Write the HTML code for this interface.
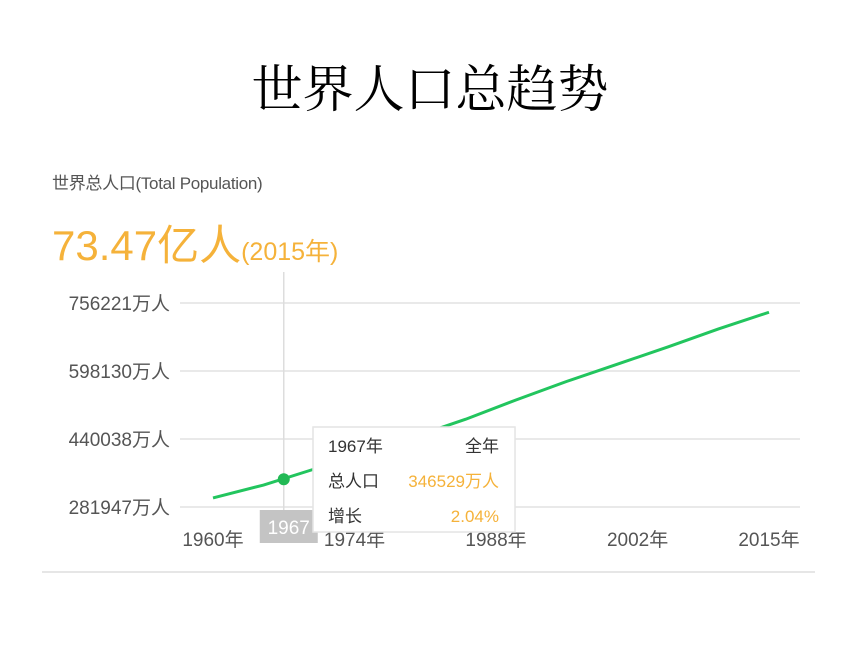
<!DOCTYPE html>
<html><head><meta charset="utf-8"><style>
body{margin:0;width:860px;height:645px;background:#fff;overflow:hidden;position:relative;font-family:"Liberation Sans","Noto Sans CJK SC",sans-serif}
.t{position:absolute;white-space:nowrap}
</style></head><body>
<div class="t" style="left:0;width:860px;text-align:center;top:48px;font-size:51px;font-family:'Liberation Serif','Noto Serif CJK SC',serif;color:#000">世界人口总趋势</div>
<div class="t" style="left:52px;top:169px;font-size:17px;color:#555;letter-spacing:-0.3px">世界总人口(Total Population)</div>
<div class="t" style="left:52px;top:212px;color:#f5b23a"><span style="font-size:42px">73.47亿人</span><span style="font-size:25px">(2015年)</span></div>
<svg id="chart" width="860" height="645" style="position:absolute;left:0;top:0"></svg>
<script>
const years=[1960,1965,1970,1975,1980,1985,1990,1995,2000,2005,2010,2015];
const pop=[303000,333000,370000,408000,446000,486000,531000,574000,614000,654000,696000,734700];
const yTicks=[281947,440038,598130,756221];
const xTicks=[1960,1974,1988,2002,2015];
const hoverYear=1967, hoverPop=346529, hoverGrowth="2.04%";
const NS="http://www.w3.org/2000/svg";
const svg=document.getElementById('chart');
const x=v=>213+(v-1960)*(769-213)/55;
const y=v=>507-(v-281947)*(507-303)/(756221-281947);
function mk(t,a,p){const e=document.createElementNS(NS,t);for(const k in a)e.setAttribute(k,a[k]);(p||svg).appendChild(e);return e;}
yTicks.forEach(v=>{
 const l=mk('line',{x1:180,x2:800,y1:y(v),y2:y(v),stroke:'#e2e2e2','stroke-width':1.5});
 
 
 const t=mk('text',{x:170,y:y(v)+7,'text-anchor':'end','font-size':19,fill:'#555'});
 t.textContent=v+'万人';
 
 
});
xTicks.forEach(v=>{
 const t=mk('text',{x:x(v),y:546,'text-anchor':'middle','font-size':19,fill:'#555'});
 t.textContent=v+'年';
 
 
});
const bl=mk('line',{x1:42,x2:815,y1:572,y2:572,stroke:'#e6e6e6','stroke-width':2});


const ch=mk('line',{x1:x(hoverYear),x2:x(hoverYear),y1:272,y2:515,stroke:'#ddd','stroke-width':1.5});


const path=mk('path',{d:years.map((yr,i)=>(i?'L':'M')+x(yr)+' '+y(pop[i])).join(' '),fill:'none',stroke:'#22c55e','stroke-width':3});


const dot=mk('circle',{cx:x(hoverYear),cy:y(hoverPop),r:6,fill:'#22b955'});


const lb=mk('rect',{x:x(hoverYear)-24,y:510,width:58,height:33,fill:'#c4c4c4'});


const lt=mk('text',{x:x(hoverYear)+5,y:534,'text-anchor':'middle','font-size':19,fill:'#fff'});
lt.textContent=hoverYear;


const g=mk('g',{});


mk('rect',{x:313,y:427,width:202,height:105,fill:'#fff',stroke:'#e4e4e4','stroke-width':1.5},g);
const rows=[[hoverYear+'年','全年','#333',446],['总人口',hoverPop+'万人','#f5b23a',481],['增长',hoverGrowth,'#f5b23a',516]];
rows.forEach(r=>{
 const a=mk('text',{x:328,y:r[3]+6,'font-size':17,fill:'#333'},g);a.textContent=r[0];
 
 
 const b=mk('text',{x:499,y:r[3]+6,'text-anchor':'end','font-size':17,fill:r[2]},g);b.textContent=r[1];
 
 
});
</script>
</body></html>
